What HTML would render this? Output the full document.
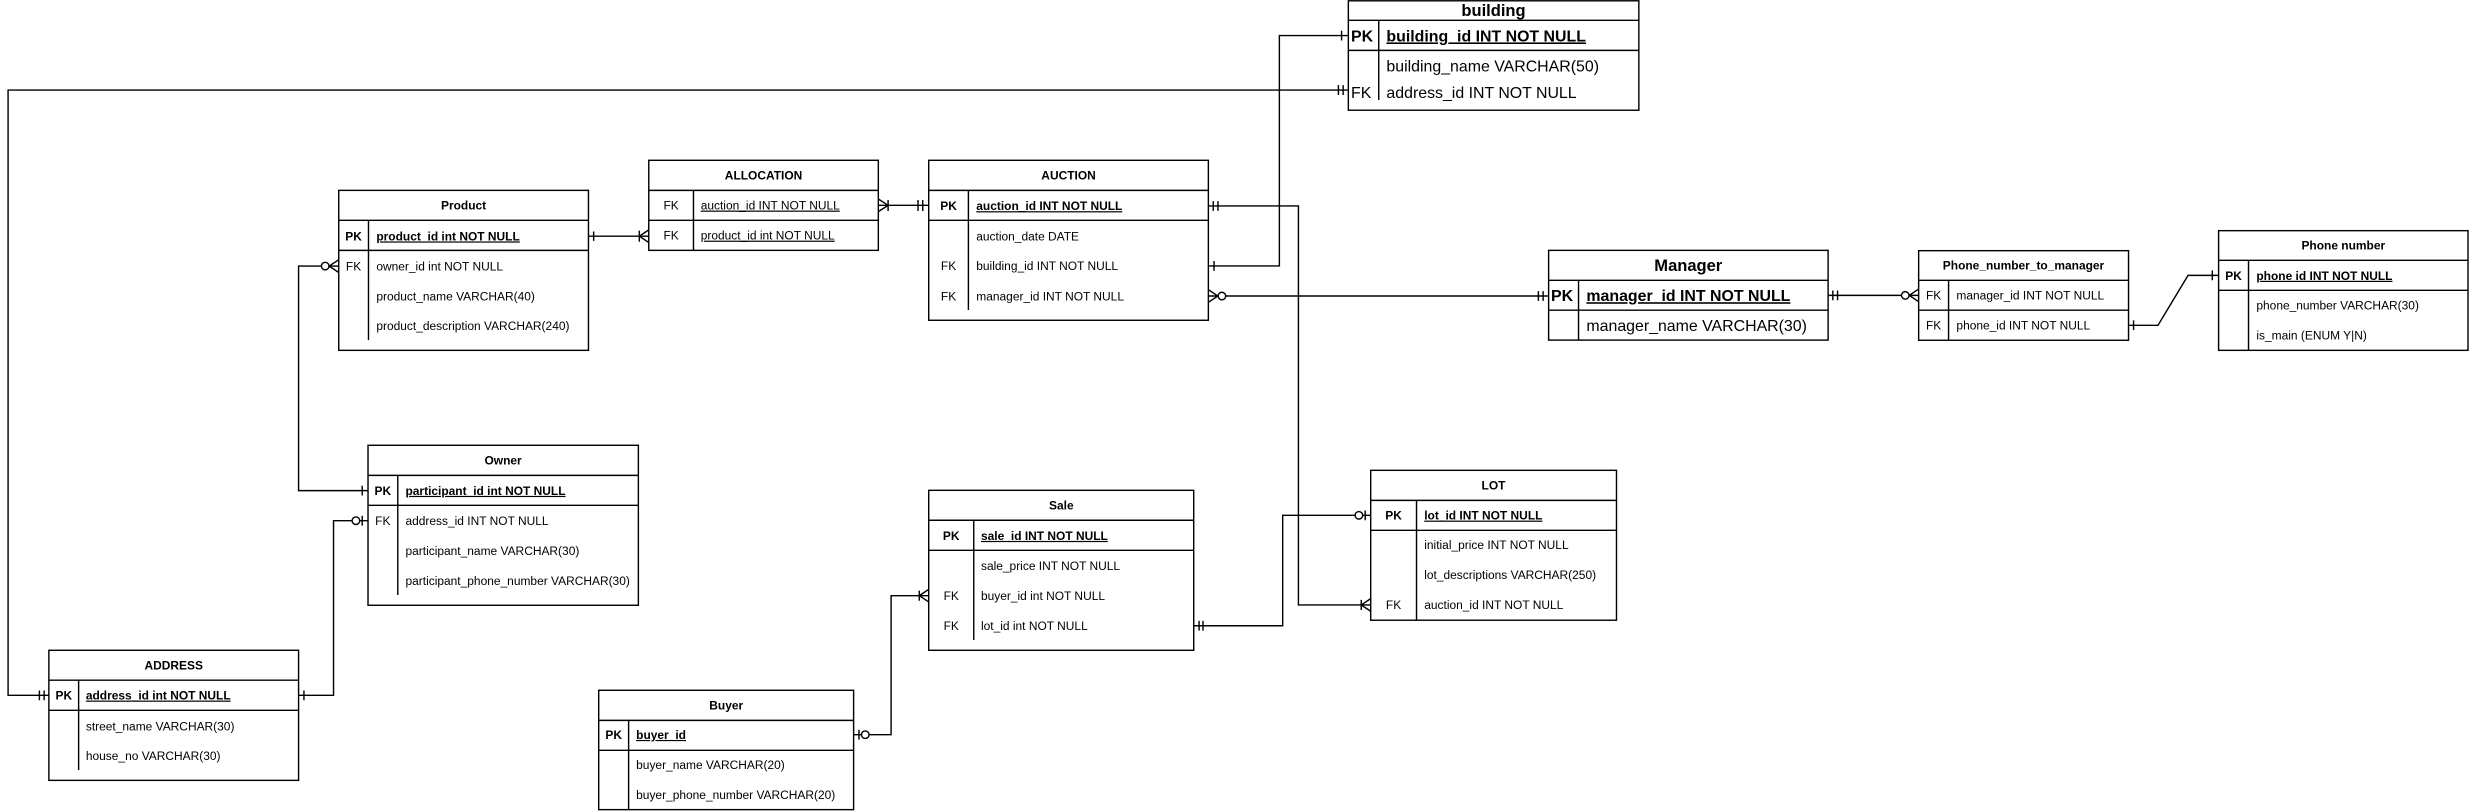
<!DOCTYPE html>
<html><head><meta charset="utf-8"><style>
html,body{margin:0;padding:0;background:#fff;}
svg{display:block;}
text{font-family:"Liberation Sans",Arial,sans-serif;fill:#000;}
.t{font-size:7.6px;}
.b{font-weight:bold;}
.u{text-decoration:underline;}
.h{font-size:7.6px;font-weight:bold;text-anchor:middle;}
.L{font-size:10.1px;}
.Lh{font-size:10.5px;font-weight:bold;text-anchor:middle;}
.k{text-anchor:middle;}
</style></head><body>
<svg width="2469" height="812" viewBox="0 0 1568 515.7" xmlns="http://www.w3.org/2000/svg">
<g fill="none" stroke="#000" stroke-width="0.9">
<!-- Product -->
<rect x="215.1" y="120.9" width="158.6" height="101.6"/>
<path d="M215.1 139.9H373.7M215.1 159H373.7M234 139.9V216"/>
<!-- ALLOCATION -->
<rect x="412" y="101.8" width="145.8" height="57.2"/>
<path d="M412 120.9H557.8M412 139.9H557.8M440.4 120.9V159"/>
<!-- AUCTION -->
<rect x="589.8" y="101.8" width="177.6" height="101.6"/>
<path d="M589.8 120.9H767.4M589.8 139.9H767.4M615 120.9V196.9"/>
<!-- building -->
<rect x="856.3" y="0.5" width="184.5" height="69.5"/>
<path d="M856.3 12.9H1040.8M856.3 32H1040.8M875.6 12.9V63.5"/>
<!-- Manager -->
<rect x="983.5" y="159" width="177.5" height="57"/>
<path d="M983.5 178H1161M983.5 197H1161M1002.5 178V216"/>
<!-- Pntm -->
<rect x="1218.5" y="159.2" width="133.3" height="56.9"/>
<path d="M1218.5 178H1351.8M1218.5 197H1351.8M1237.5 178V216.1"/>
<!-- Phone number -->
<rect x="1409" y="146.5" width="158.4" height="76"/>
<path d="M1409 165.3H1567.4M1409 184.4H1567.4M1428 165.3V222.5"/>
<!-- Owner -->
<rect x="233.7" y="282.8" width="171.7" height="101.6"/>
<path d="M233.7 301.9H405.4M233.7 320.9H405.4M252.6 301.9V377.9"/>
<!-- ADDRESS -->
<rect x="31" y="413" width="158.6" height="82.6"/>
<path d="M31 432H189.6M31 451.1H189.6M49.9 432V489"/>
<!-- Buyer -->
<rect x="380.2" y="438.4" width="161.9" height="75.8"/>
<path d="M380.2 457.5H542.1M380.2 476.5H542.1M399.2 457.5V514.2"/>
<!-- Sale -->
<rect x="589.8" y="311.4" width="168.3" height="101.6"/>
<path d="M589.8 330.4H758.1M589.8 349.5H758.1M618.4 330.4V406.5"/>
<!-- LOT -->
<rect x="870.5" y="298.7" width="156.1" height="95.2"/>
<path d="M870.5 317.8H1026.6M870.5 336.8H1026.6M899.6 317.8V393.9"/>

<!-- connectors -->
<path d="M373.7 150H412M377 147V153M406 146.5V153.5M406 150L412 146M406 150L412 154"/>
<path d="M557.8 130.4H589.8M557.8 126.4L564 130.4L557.8 134.4M564 127V134M583 127V134M586 127V134"/>
<path d="M215 169H189.6V311.6H233.7M215 165L209 169L215 173M230 308.5V314.7"/>
<circle cx="206.5" cy="169" r="2.4" fill="#fff"/>
<path d="M233.7 330.7H211.8V441.6H189.6M230 327.6V333.8M193 438.5V444.7"/>
<circle cx="226" cy="330.7" r="2.4" fill="#fff"/>
<path d="M31 441.6H5.1V57.2H856.3M25 438.5V444.7M28 438.5V444.7M850 54.1V60.3M853 54.1V60.3"/>
<path d="M856.3 22.6H812.5V168.9H767.4M852 19.5V25.7M771 165.8V172"/>
<path d="M767.4 130.8H824.6V384.2H870.5M770.5 127.7V133.9M773.5 127.7V133.9M870.5 380.2L864.5 384.2L870.5 388.2M864.5 381V387.4"/>
<path d="M767.4 188H983.5M767.4 184L773.4 188L767.4 192M977 184.9V191.1M980 184.9V191.1"/>
<circle cx="776" cy="188" r="2.4" fill="#fff"/>
<path d="M1161 187.6H1218.5M1164 184.5V190.7M1167 184.5V190.7M1218.5 183.6L1212.5 187.6L1218.5 191.6"/>
<circle cx="1210" cy="187.6" r="2.4" fill="#fff"/>
<path d="M1351.8 206.6H1370.5L1389.6 174.9H1409M1355 203.5V209.7M1405 171.8V178"/>
<path d="M542.1 466.6H565.9V378.3H589.8M545.5 463.5V469.7M589.8 374.3L583.8 378.3L589.8 382.3M583.8 375.1V381.5"/>
<circle cx="549.5" cy="466.6" r="2.4" fill="#fff"/>
<path d="M758.1 397.4H814.6V327.3H870.5M761.5 394.3V400.5M764 394.3V400.5M867 324.2V330.4"/>
<circle cx="863" cy="327.3" r="2.4" fill="#fff"/>
</g>

<!-- Product -->
<text class="h" x="294.4" y="133.1">Product</text>
<text class="t b k" x="224.5" y="152.7">PK</text>
<text class="t b u" x="239" y="152.7">product_id int NOT NULL</text>
<text class="t k" x="224.5" y="171.7">FK</text>
<text class="t" x="239" y="171.7">owner_id int NOT NULL</text>
<text class="t" x="239" y="190.7">product_name VARCHAR(40)</text>
<text class="t" x="239" y="209.7">product_description VARCHAR(240)</text>
<!-- ALLOCATION -->
<text class="h" x="484.9" y="114">ALLOCATION</text>
<text class="t k" x="426.2" y="133.1">FK</text>
<text class="t u" x="445" y="133.1">auction_id INT NOT NULL</text>
<text class="t k" x="426.2" y="152.2">FK</text>
<text class="t u" x="445" y="152.2">product_id int NOT NULL</text>
<!-- AUCTION -->
<text class="h" x="678.6" y="114">AUCTION</text>
<text class="t b k" x="602.4" y="133.5">PK</text>
<text class="t b u" x="620" y="133.5">auction_id INT NOT NULL</text>
<text class="t" x="620" y="152.6">auction_date DATE</text>
<text class="t k" x="602.4" y="171.6">FK</text>
<text class="t" x="620" y="171.6">building_id INT NOT NULL</text>
<text class="t k" x="602.4" y="190.7">FK</text>
<text class="t" x="620" y="190.7">manager_id INT NOT NULL</text>
<!-- building -->
<text class="Lh" x="948.5" y="10.3">building</text>
<text class="L b" x="858" y="26.3">PK</text>
<text class="L b u" x="880.5" y="26.3">building_id INT NOT NULL</text>
<text class="L" x="880.5" y="45.4">building_name VARCHAR(50)</text>
<text class="L" x="858" y="62.3">FK</text>
<text class="L" x="880.5" y="62.3">address_id INT NOT NULL</text>
<!-- Manager -->
<text class="Lh" x="1072.2" y="172.2">Manager</text>
<text class="L b" x="985" y="191.3">PK</text>
<text class="L b u" x="1007.5" y="191.3">manager_id INT NOT NULL</text>
<text class="L" x="1007.5" y="210.2">manager_name VARCHAR(30)</text>
<!-- Pntm -->
<text class="h" x="1285.1" y="171.3">Phone_number_to_manager</text>
<text class="t k" x="1228" y="190.3">FK</text>
<text class="t" x="1242.5" y="190.3">manager_id INT NOT NULL</text>
<text class="t k" x="1228" y="209.3">FK</text>
<text class="t" x="1242.5" y="209.3">phone_id INT NOT NULL</text>
<!-- Phone number -->
<text class="h" x="1488.2" y="158.6">Phone number</text>
<text class="t b k" x="1418.5" y="177.7">PK</text>
<text class="t b u" x="1433" y="177.7">phone id INT NOT NULL</text>
<text class="t" x="1433" y="196.7">phone_number VARCHAR(30)</text>
<text class="t" x="1433" y="215.7">is_main (ENUM Y|N)</text>
<!-- Owner -->
<text class="h" x="319.5" y="295">Owner</text>
<text class="t b k" x="243.1" y="314.3">PK</text>
<text class="t b u" x="257.5" y="314.3">participant_id int NOT NULL</text>
<text class="t k" x="243.1" y="333.4">FK</text>
<text class="t" x="257.5" y="333.4">address_id INT NOT NULL</text>
<text class="t" x="257.5" y="352.4">participant_name VARCHAR(30)</text>
<text class="t" x="257.5" y="371.5">participant_phone_number VARCHAR(30)</text>
<!-- ADDRESS -->
<text class="h" x="110.3" y="425.2">ADDRESS</text>
<text class="t b k" x="40.5" y="444.3">PK</text>
<text class="t b u" x="54.5" y="444.3">address_id int NOT NULL</text>
<text class="t" x="54.5" y="463.8">street_name VARCHAR(30)</text>
<text class="t" x="54.5" y="482.8">house_no VARCHAR(30)</text>
<!-- Buyer -->
<text class="h" x="461.2" y="450.6">Buyer</text>
<text class="t b k" x="389.7" y="469.3">PK</text>
<text class="t b u" x="404" y="469.3">buyer_id</text>
<text class="t" x="404" y="488.5">buyer_name VARCHAR(20)</text>
<text class="t" x="404" y="507.6">buyer_phone_number VARCHAR(20)</text>
<!-- Sale -->
<text class="h" x="674" y="323.6">Sale</text>
<text class="t b k" x="604.1" y="342.9">PK</text>
<text class="t b u" x="623" y="342.9">sale_id INT NOT NULL</text>
<text class="t" x="623" y="361.9">sale_price INT NOT NULL</text>
<text class="t k" x="604.1" y="381">FK</text>
<text class="t" x="623" y="381">buyer_id int NOT NULL</text>
<text class="t k" x="604.1" y="400.1">FK</text>
<text class="t" x="623" y="400.1">lot_id int NOT NULL</text>
<!-- LOT -->
<text class="h" x="948.5" y="311">LOT</text>
<text class="t b k" x="885" y="330">PK</text>
<text class="t b u" x="904.5" y="330">lot_id INT NOT NULL</text>
<text class="t" x="904.5" y="348.6">initial_price INT NOT NULL</text>
<text class="t" x="904.5" y="367.7">lot_descriptions VARCHAR(250)</text>
<text class="t k" x="885" y="386.7">FK</text>
<text class="t" x="904.5" y="386.7">auction_id INT NOT NULL</text>
</svg>
</body></html>
